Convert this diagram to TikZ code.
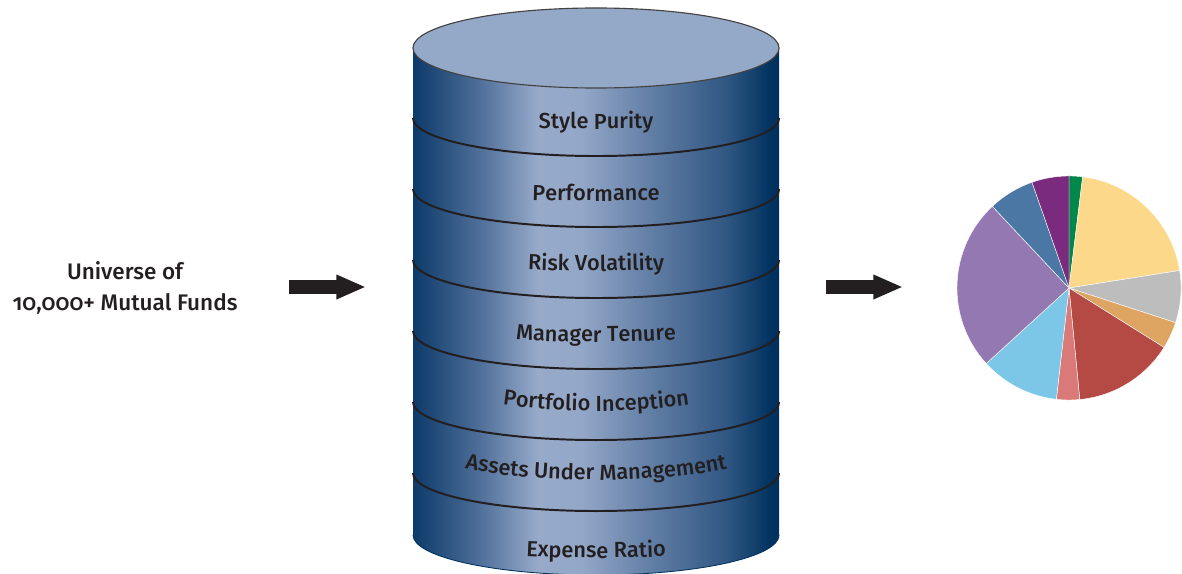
\documentclass[tikz,border=0pt]{standalone}
\usepackage{fontspec}
\setmainfont{Fira Sans}[Numbers=OldStyle, BoldFont={Fira Sans Medium}]
\usetikzlibrary{arrows.meta,decorations.text}

\definecolor{cyldark}{HTML}{0D3A6A}
\definecolor{cylmid}{HTML}{4E6E98}
\definecolor{cyllight}{HTML}{97AACA}
\definecolor{cyldeep}{HTML}{00315F}
\definecolor{cyltop}{HTML}{94A8C7}
\definecolor{inktext}{HTML}{231F20}
\definecolor{piegreen}{HTML}{00874A}
\definecolor{pieyellow}{HTML}{FCD88A}
\definecolor{piegray}{HTML}{BDBDBD}
\definecolor{pieorange}{HTML}{DDA462}
\definecolor{piered}{HTML}{B44A43}
\definecolor{piepink}{HTML}{DA7A78}
\definecolor{pieblue}{HTML}{7CC7E8}
\definecolor{pielav}{HTML}{9478B2}
\definecolor{piesteel}{HTML}{4A77A3}
\definecolor{piepurple}{HTML}{7A2B7E}

\pgfdeclarehorizontalshading{cylshade}{100bp}{color(0bp)=(cyldark); color(25bp)=(cyldark);
  color(34bp)=(cylmid); color(42bp)=(cyllight); color(48bp)=(cyllight!95!cylmid);
  color(57bp)=(cylmid!70!cyllight); color(68bp)=(cylmid!60!cyldeep);
  color(74bp)=(cyldeep); color(100bp)=(cyldeep)}

\newcommand{\labelfont}{\fontsize{15.5}{18}\selectfont\bfseries\color{inktext}}

\tikzstyle{band} = [draw=inktext, line width=1.4pt]
\tikzstyle{bigarrow} = [draw=inktext, line width=9.5pt,
    -{Triangle[length=21pt,width=16pt]}]
\tikzset{curvetext/.style={decorate, decoration={text along path,
    text align=center, text={|\labelfont|#1}}}}

\begin{document}
\begin{tikzpicture}[x=0.025cm,y=-0.025cm]
  \useasboundingbox (0,0) rectangle (1182,573);

  % cylinder
  \shade[shading=cylshade] (413,48) -- (413,535)
      arc[start angle=180,end angle=360,x radius=4.575cm,y radius=1cm]
      -- (779,48) -- cycle;
  \draw[cyldeep, line width=0.6pt] (413,535)
      arc[start angle=180,end angle=360,x radius=4.575cm,y radius=1cm];
  \filldraw[fill=cyltop, draw=inktext!85, line width=0.8pt]
      (596,48) ellipse[x radius=4.575cm, y radius=1cm];
  \foreach \y in {118,189,260,331,402,473}
    \draw[band] (413,\y)
      arc[start angle=180,end angle=360,x radius=4.575cm,y radius=0.95cm];

  % labels on the cylinder
  \path[curvetext=Style Purity] (413,124)
      arc[start angle=180,end angle=360,x radius=4.575cm,y radius=0.125cm];
  \path[curvetext=Performance] (413,186)
      arc[start angle=180,end angle=360,x radius=4.575cm,y radius=0.375cm];
  \path[curvetext=Risk Volatility] (413,251)
      arc[start angle=180,end angle=360,x radius=4.575cm,y radius=0.5cm];
  \path[curvetext=Manager Tenure] (413,317)
      arc[start angle=180,end angle=360,x radius=4.575cm,y radius=0.625cm];
  \path[curvetext=Portfolio Inception] (413,366)
      arc[start angle=180,end angle=360,x radius=4.575cm,y radius=1.125cm];
  \path[curvetext=Assets Under Management] (413,442)
      arc[start angle=180,end angle=360,x radius=4.575cm,y radius=0.95cm];
  \path[curvetext=Expense Ratio] (413,536)
      arc[start angle=180,end angle=360,x radius=4.575cm,y radius=0.55cm];

  % input text
  \node[font=\fontsize{16}{21.5}\selectfont\bfseries, text=inktext, align=center]
      (universe) at (125,288) {Universe of\\10,000+ Mutual Funds};

  % arrows
  \coordinate (in1) at (289,287);
  \coordinate (in2) at (366,287);
  \coordinate (out1) at (826,287);
  \coordinate (out2) at (903,287);
  \draw[bigarrow] (in1) -- (in2);
  \draw[bigarrow] (out1) -- (out2);

  % pie
  \coordinate (pie) at (1069,288);
  \foreach \a/\b/\c in {83/90/piegreen, 9/83/pieyellow, -18/9/piegray,
      -32/-18/pieorange, -84.5/-32/piered, -96.5/-84.5/piepink,
      -137.6/-96.5/pieblue, -226.8/-137.6/pielav, -250.7/-226.8/piesteel,
      -270/-250.7/piepurple}
    \filldraw[fill=\c, draw=white, line width=0.3pt] (pie) -- +(\a:2.8cm)
      arc[start angle=\a, end angle=\b, radius=2.8cm] -- cycle;
\end{tikzpicture}
\end{document}
